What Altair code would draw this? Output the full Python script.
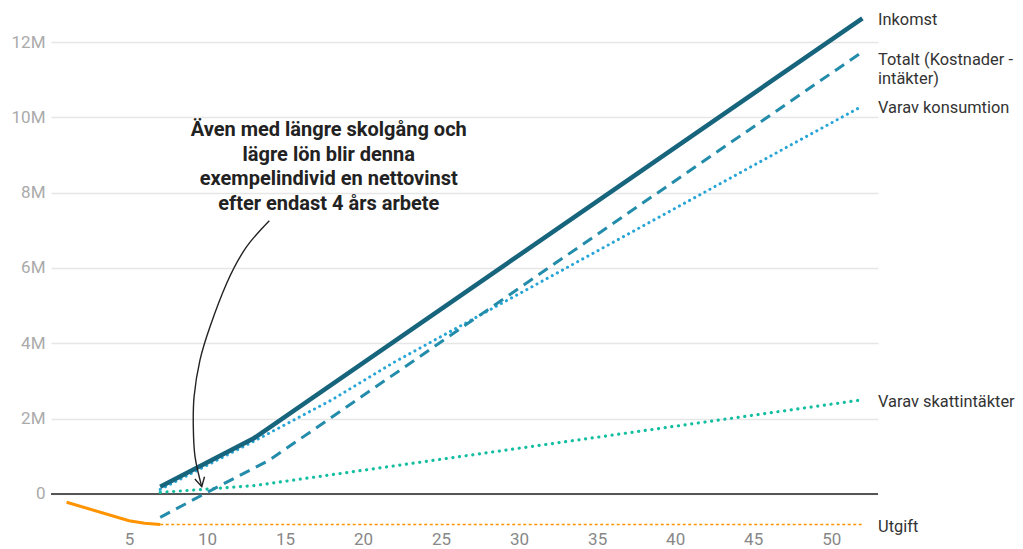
import altair as alt
import pandas as pd

# ---- data ----
ink_years = [7, 13, 52]
ink_vals = [0.19e6, 1.48e6, 12.63e6]

tot_years = [7, 10, 14, 52]
tot_vals = [-0.62e6, 0.04e6, 0.90e6, 11.74e6]

kons_years = [7, 13, 18, 22, 35, 48, 52]
kons_vals = [0.12e6, 1.40e6, 2.50e6, 3.50e6, 6.45e6, 9.40e6, 10.30e6]

skatt_years = [7, 13, 52]
skatt_vals = [0.04e6, 0.22e6, 2.50e6]

utg_years = [1, 5, 6, 7]
utg_vals = [-0.22e6, -0.71e6, -0.78e6, -0.81e6]

utg_proj_years = [7, 52]
utg_proj_vals = [-0.81e6, -0.81e6]

label_texts = ["Inkomst", "Totalt (Kostnader -", "intäkter)", "Varav konsumtion",
               "Varav skattintäkter", "Utgift"]
label_y = [12.58e6, 11.53e6, 11.03e6, 10.25e6, 2.44e6, -0.88e6]
label_x = [53, 53, 53, 53, 53, 53]

note_lines = ["Även med längre skolgång och", "lägre lön blir denna",
              "exempelindivid en nettovinst", "efter endast 4 års arbete"]
note_y = [9.66e6, 9.01e6, 8.36e6, 7.71e6]
note_x = [17.8, 17.8, 17.8, 17.8]

arrow_x = [13.99, 12.54, 11.26, 10.19, 9.55, 9.17, 9.12, 9.23, 9.66]
arrow_y = [7.256e6, 6.565e6, 5.594e6, 4.442e6, 3.558e6, 2.583e6, 1.787e6, 0.990e6, 0.194e6]

x_ticks = [5, 10, 15, 20, 25, 30, 35, 40, 45, 50]
y_ticks = [0, 2e6, 4e6, 6e6, 8e6, 10e6, 12e6]

FONT = "Roboto"

x_scale = alt.Scale(domain=[0, 53], nice=False, zero=False)
y_scale = alt.Scale(domain=[-1.01e6, 12.85e6], nice=False, zero=False)

x_axis = alt.Axis(values=x_ticks, grid=False, domain=False, ticks=False, labelPadding=-1,
                  labelFontSize=17, labelColor="#888", labelFont=FONT, title=None)
y_axis = alt.Axis(values=y_ticks, grid=True, gridColor="#e6e6e6", gridWidth=1.5,
                  domain=False, ticks=False, labelPadding=6, labelFontSize=17,
                  labelColor="#aaa", labelFont=FONT, title=None,
                  labelExpr="datum.value == 0 ? '0' : (datum.value / 1000000) + 'M'")


def X(field="x"):
    return alt.X(f"{field}:Q", scale=x_scale, axis=x_axis)


def Y(field="y"):
    return alt.Y(f"{field}:Q", scale=y_scale, axis=y_axis)


def line(xs, ys, color, width, dash=None, cap="butt"):
    df = pd.DataFrame({"x": xs, "y": ys})
    kw = dict(color=color, strokeWidth=width, strokeCap=cap)
    if dash is not None:
        kw["strokeDash"] = dash
    return alt.Chart(df).mark_line(**kw).encode(x=X(), y=Y())


zero_df = pd.DataFrame({"y": [0]})
zero_rule = alt.Chart(zero_df).mark_rule(color="#555", strokeWidth=2).encode(y=Y())

skatt = line(skatt_years, skatt_vals, "#14bea0", 3.2, dash=[0.1, 6.6], cap="round")
kons = line(kons_years, kons_vals, "#28a5d7", 3, dash=[0.1, 5.7], cap="round")
tot = line(tot_years, tot_vals, "#238caa", 3, dash=[11, 7])
ink = line(ink_years, ink_vals, "#17647d", 4.5)
utg = line(utg_years, utg_vals, "#ff9400", 3)
utg_proj = line(utg_proj_years, utg_proj_vals, "#ff9400", 1.6, dash=[3, 2.5])

labels_df = pd.DataFrame({"x": label_x, "y": label_y, "t": label_texts})
labels = alt.Chart(labels_df).mark_text(align="left", baseline="middle", font=FONT,
                                        fontSize=16.4, color="#333", dx=0).encode(
    x=X(), y=Y(), text="t:N")

note_df = pd.DataFrame({"x": note_x, "y": note_y, "t": note_lines})
note = alt.Chart(note_df).mark_text(align="center", baseline="middle", font=FONT,
                                    fontSize=20, fontWeight="bold", color="#222").encode(
    x=X(), y=Y(), text="t:N")

arrow_df = pd.DataFrame({"x": arrow_x, "y": arrow_y, "i": list(range(len(arrow_x)))})
arrow = alt.Chart(arrow_df).mark_line(color="#222", strokeWidth=1.4, interpolate="natural").encode(
    x=X(), y=Y(), order="i:Q")

head_df = pd.DataFrame({"x": [arrow_x[-1]], "y": [arrow_y[-1]]})
head = alt.Chart(head_df).mark_point(shape="M-0.55,-1L0,0L0.55,-1", filled=False, size=324,
                                     strokeWidth=1.4, color="#222", opacity=1, angle=347).encode(
    x=X(), y=Y())

chart = alt.layer(zero_rule, skatt, kons, tot, ink, utg, utg_proj, arrow, head, note, labels).properties(
    width=827, height=522,
    autosize=alt.AutoSizeParams(type="none"),
    padding={"left": 43, "top": 2, "right": 137, "bottom": 17},
    background="white",
).configure_view(stroke=None)

chart.save("out.html", embed_options={"renderer": "svg", "actions": False})
